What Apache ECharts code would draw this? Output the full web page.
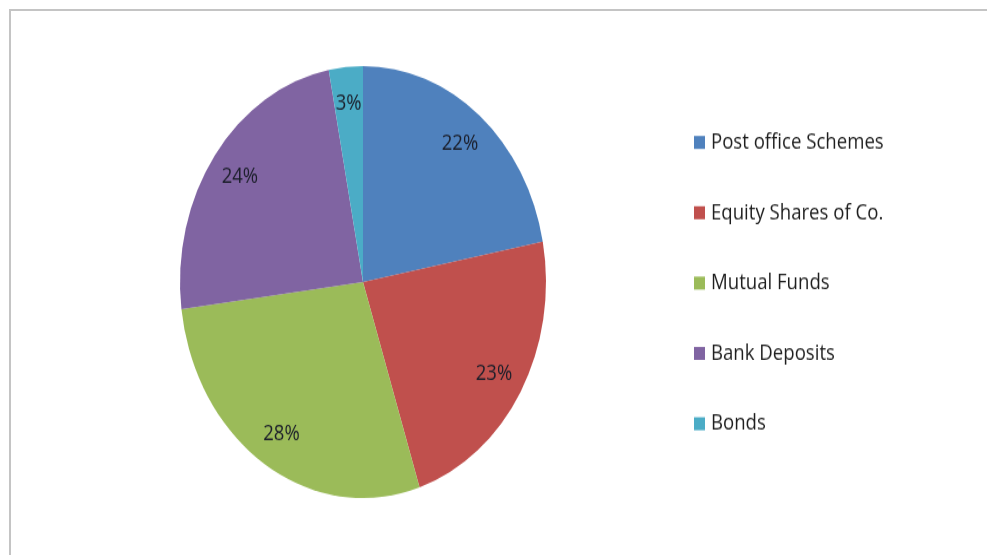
<!DOCTYPE html>
<html>
<head>
<meta charset="utf-8">
<title>Investment Preferences</title>
<script src="https://cdn.jsdelivr.net/npm/echarts@6/dist/echarts.min.js"></script>
<style>
  html, body { margin: 0; padding: 0; background: #fff; overflow: hidden; }
  #frame {
    position: absolute; left: 9px; top: 9px; width: 1000px; height: 600px;
    border: 2px solid #c4c4c4; box-sizing: border-box;
  }
  #wrap {
    position: absolute; left: 0; top: 0; width: 987px; height: 555px; overflow: hidden;
  }
  /* the chart is drawn on a flatter canvas and stretched vertically */
  #chart {
    position: absolute; left: 0; top: 0; width: 987px; height: 470px;
    transform: scaleY(1.18); transform-origin: 0 0;
  }
</style>
</head>
<body>
<div id="frame"></div>
<div id="wrap"><div id="chart"></div></div>
<script>
// Share of investment (%)
const categories = ['Post office Schemes', 'Equity Shares of Co.', 'Mutual Funds', 'Bank Deposits', 'Bonds'];
const shares = [22, 23, 28, 24, 3];
const sliceColors = ['#4F81BD', '#C0504D', '#9BBB59', '#8064A2', '#4BACC6'];

const pieData = categories.map((name, i) => ({ name: name, value: shares[i] }));
const FONT = '"Open Sans", "Noto Sans", sans-serif';
const CENTER = [363, 239];
const R = 183;

const chart = echarts.init(document.getElementById('chart'), null, { renderer: 'canvas' });
chart.setOption({
  animation: false,
  color: sliceColors,
  legend: {
    orient: 'vertical',
    left: 694,
    top: 110.7,
    padding: 0,
    itemWidth: 11,
    itemHeight: 11,
    itemGap: 39.6,
    icon: 'rect',
    data: categories,
    textStyle: { fontFamily: FONT, fontSize: 18.6, lineHeight: 20, color: '#1e1e1e', padding: [0, 0, 0, 1] }
  },
  series: [
    {
      type: 'pie',
      center: CENTER,
      radius: [0, R],
      startAngle: 90,
      clockwise: true,
      silent: true,
      label: { show: false },
      labelLine: { show: false },
      data: pieData
    },
    {
      // ring used only to place the percentage labels near the rim
      type: 'pie',
      center: CENTER,
      radius: [R * 0.63, R],
      startAngle: 90,
      clockwise: true,
      silent: true,
      itemStyle: { color: 'rgba(0,0,0,0)' },
      label: {
        show: true,
        position: 'inside',
        formatter: p => p.value + '%',
        fontFamily: FONT,
        fontSize: 18.5,
        color: '#1b1e2a'
      },
      labelLine: { show: false },
      data: pieData
    }
  ]
});
</script>
</body>
</html>
